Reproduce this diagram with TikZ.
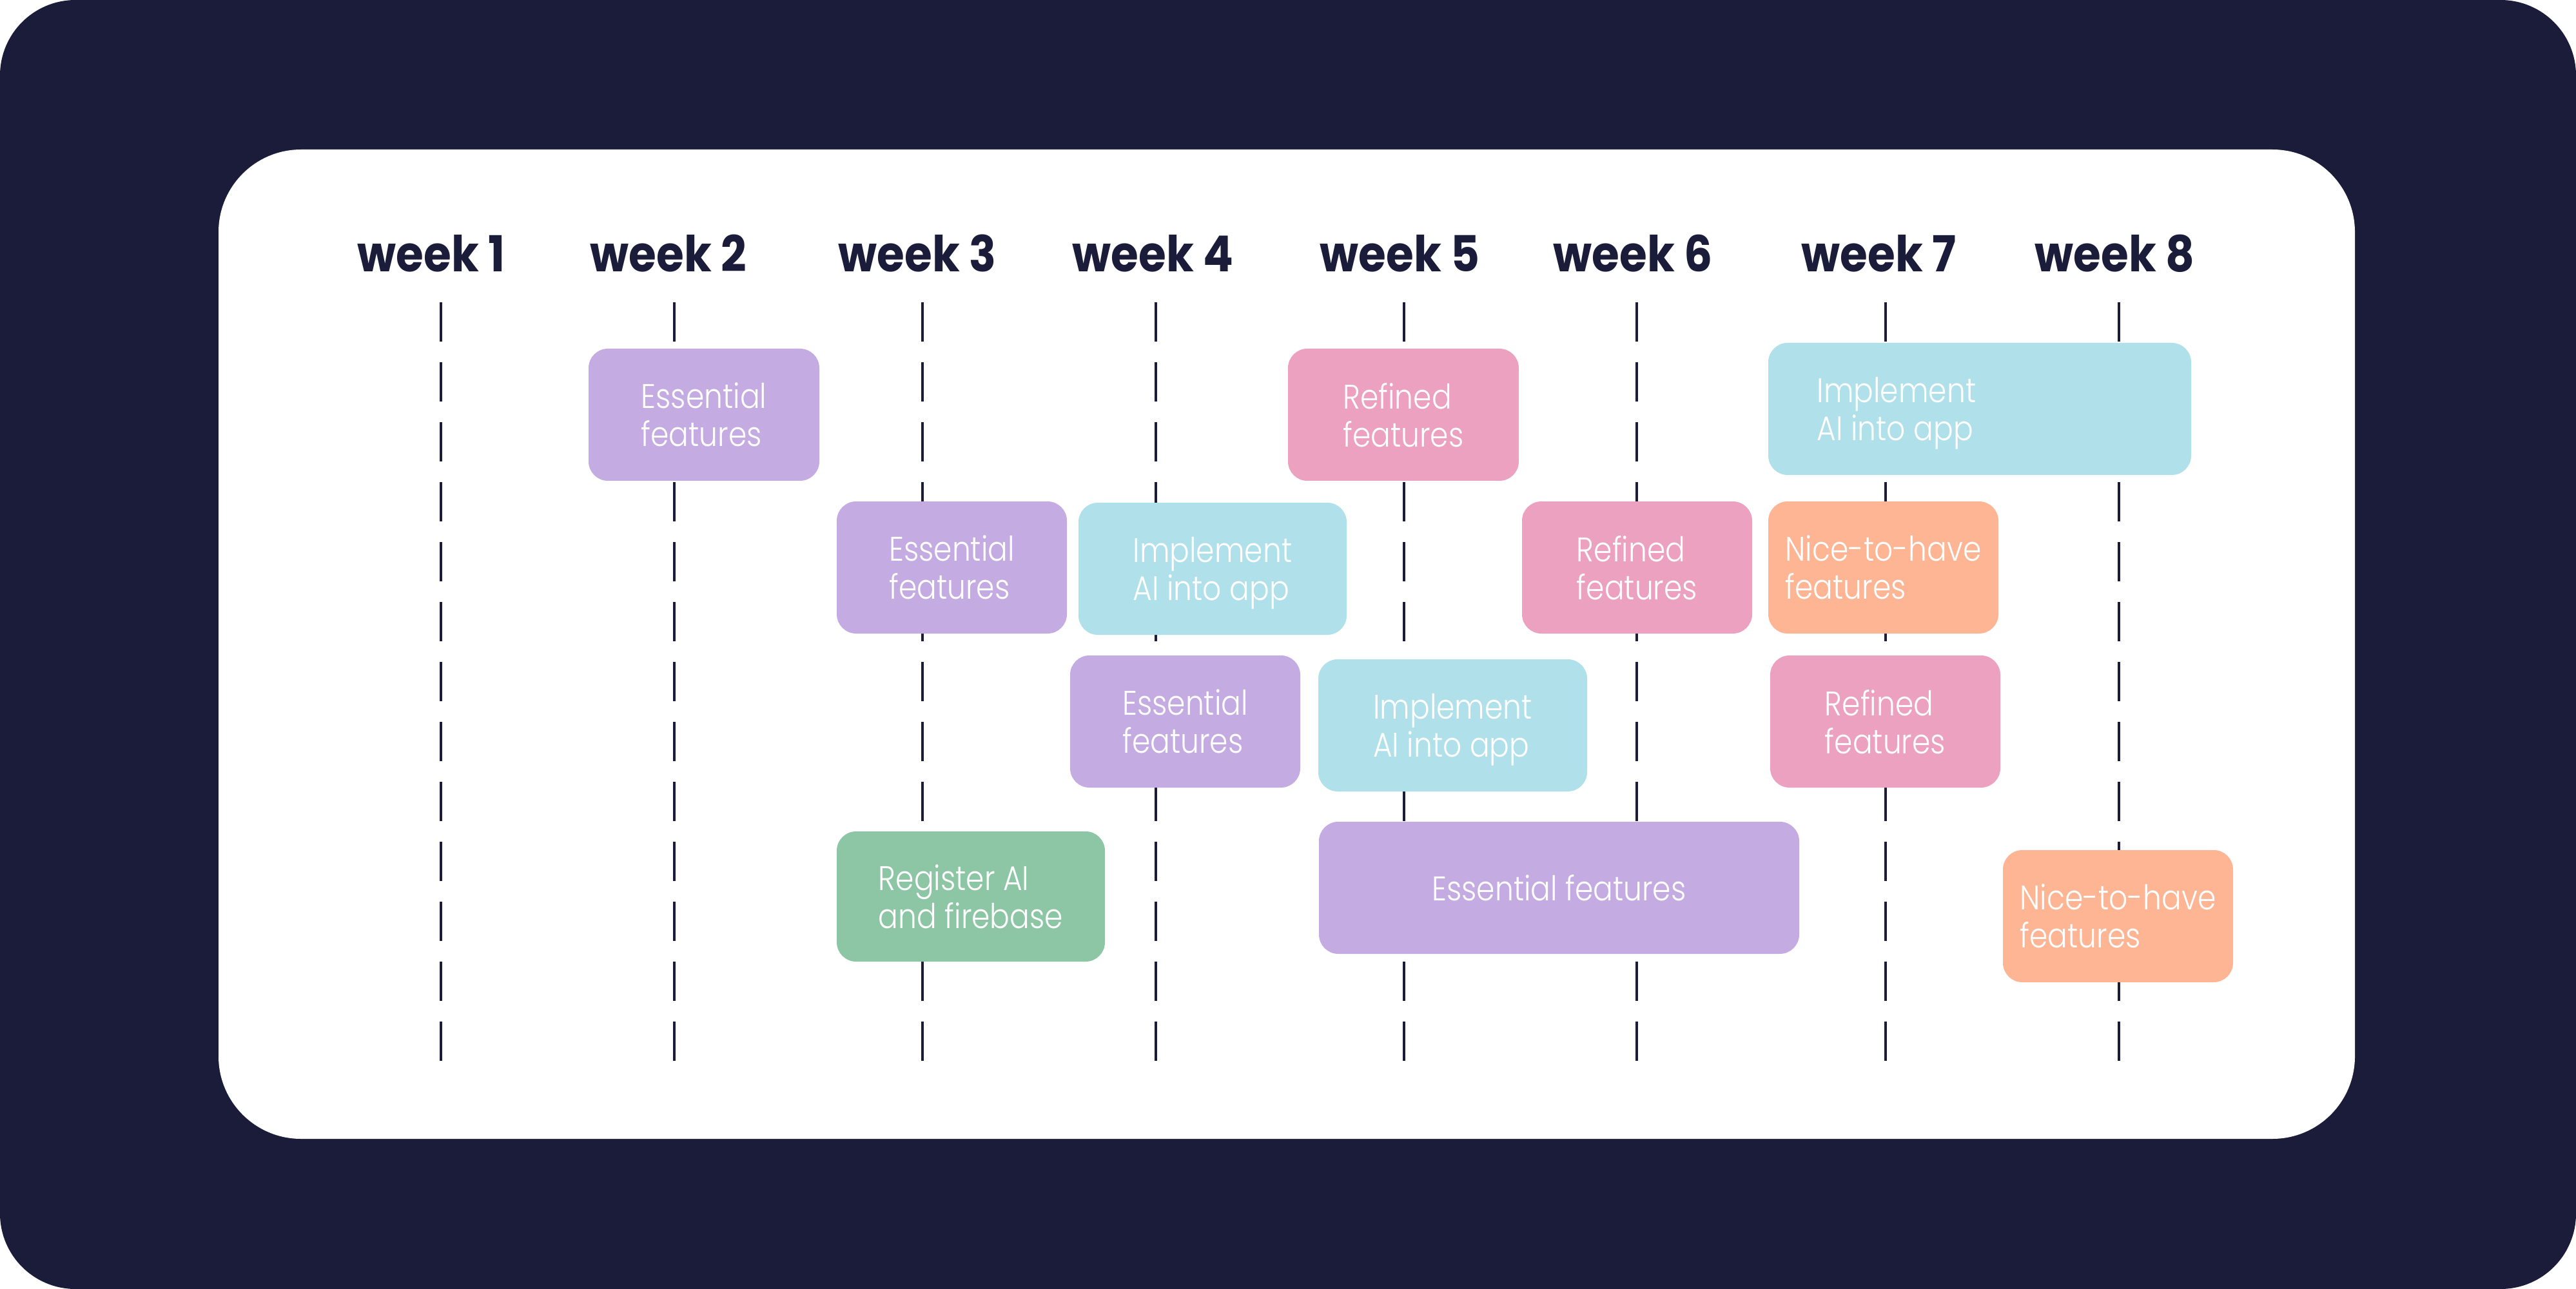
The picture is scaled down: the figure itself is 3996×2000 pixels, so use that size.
\documentclass[tikz,border=0pt]{standalone}
\usepackage{fontspec}
\IfFontExistsTF{Poppins Light}{\newfontfamily\lightfont[FakeStretch=0.86]{Poppins Light}}{\newfontfamily\lightfont[FakeStretch=0.86]{Poppins}}
\newfontfamily\wkfont[FakeStretch=0.9]{Poppins}
\definecolor{navy}{HTML}{1B1C3A}
\definecolor{tpurple}{HTML}{C4ACE2}
\definecolor{tcyan}{HTML}{B0E0EA}
\definecolor{tpink}{HTML}{EBA1BF}
\definecolor{torange}{HTML}{FDB594}
\definecolor{tgreen}{HTML}{8DC6A4}
\tikzset{
  task/.style={rounded corners=7.5pt, inner sep=0pt, text=white, align=left, text depth=0pt,
    font=\lightfont\fontsize{13.25pt}{14.75pt}\selectfont},
  tasklabel/.style={inner sep=0pt, text=white, align=left, text depth=0pt,
    font=\lightfont\fontsize{13.25pt}{14.75pt}\selectfont},
  week/.style={inner sep=0pt, text=navy, anchor=base west,
    font=\wkfont\bfseries\fontsize{19.25pt}{23pt}\selectfont},
  dashline/.style={navy, line width=1.1pt, dash pattern=on 15.25pt off 8pt}
}
\newcommand\taskbox[7]{%
  \node[task, fill=#2, minimum width={(#5-#3)*0.25pt}, minimum height={(#6-#4)*0.25pt}]
    (#1) at ({(#3+#5)/2},{(#4+#6)/2}) {#7};}
\begin{document}
\begin{tikzpicture}[x=0.25pt,y=-0.25pt]
\useasboundingbox (0,0) rectangle (3996,2000);
\fill[white] (0,0) rectangle (3996,2000);
\fill[navy, rounded corners=29.25pt] (0,0) rectangle (3996,2000);
\fill[white, rounded corners=32pt] (339,232) rectangle (3653,1767);
% week labels
\node[week] (w1) at (554,422) {week 1};
\node[week] (w2) at (915,422) {week 2};
\node[week] (w3) at (1300,422) {week 3};
\node[week] (w4) at (1663,422) {week 4};
\node[week] (w5) at (2047,422) {week 5};
\node[week] (w6) at (2409,422) {week 6};
\node[week] (w7) at (2794,422) {week 7};
\node[week] (w8) at (3156,422) {week 8};
% dashed lines
\foreach \i/\x in {1/684,2/1046,3/1431,4/1793,5/2178,6/2539,7/2925,8/3287}{
  \coordinate (t\i) at (\x,469);
  \coordinate (b\i) at (\x,1646);
  \draw[dashline] (t\i) -- (b\i);
}
% tasks
\taskbox{e1}{tpurple}{913}{541}{1271}{746}{Essential\\features}
\taskbox{e2}{tpurple}{1298}{778}{1655}{983}{Essential\\features}
\taskbox{i1}{tcyan}{1673}{780}{2089}{985}{Implement\\AI into app}
\taskbox{e3}{tpurple}{1660}{1017}{2017}{1222}{Essential\\features}
\taskbox{i2}{tcyan}{2045}{1023}{2462}{1228}{Implement\\AI into app}
\taskbox{e4}{tpurple}{2046}{1275}{2791}{1480}{Essential features}
\taskbox{n2}{torange}{3107}{1319}{3464}{1524}{Nice-to-have\\features}
\taskbox{r1}{tpink}{1998}{541}{2356}{746}{Refined\\features}
\taskbox{r2}{tpink}{2361}{778}{2718}{983}{Refined\\features}
\taskbox{i3}{tcyan}{2743}{532}{3399}{737}{}
\node[tasklabel] (i3t) at (2942,634.5) {Implement\\AI into app};
\taskbox{n1}{torange}{2743}{778}{3100}{983}{Nice-to-have\\features}
\taskbox{r3}{tpink}{2746}{1017}{3103}{1222}{Refined\\features}
\taskbox{g1}{tgreen}{1298}{1290}{1714}{1492}{Register AI\\and firebase}
\end{tikzpicture}
\end{document}
